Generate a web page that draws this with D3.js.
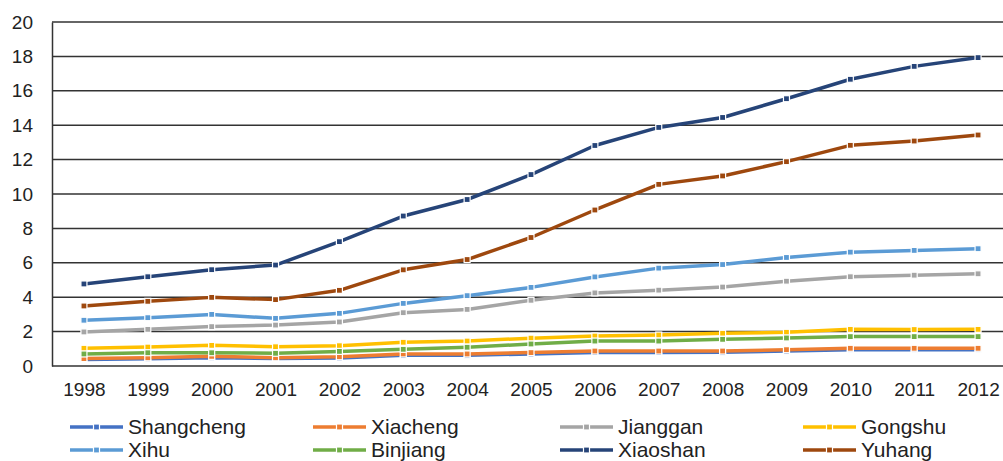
<!DOCTYPE html>
<html>
<head>
<meta charset="utf-8">
<script src="https://cdn.jsdelivr.net/npm/d3@7"></script>
<style>
  html, body { margin: 0; padding: 0; background: #fff; }
  svg { display: block; font-family: Arial, "Liberation Sans", sans-serif; }
</style>
</head>
<body>
<svg id="chart" width="1003" height="461"></svg>
<script>
// District values by year
const years = ["1998","1999","2000","2001","2002","2003","2004","2005","2006","2007","2008","2009","2010","2011","2012"];
const yTicks = [0, 2, 4, 6, 8, 10, 12, 14, 16, 18, 20];

const shangcheng = [0.38,0.42,0.48,0.43,0.47,0.62,0.63,0.70,0.79,0.79,0.80,0.87,0.95,0.95,0.95];
const xiacheng   = [0.43,0.48,0.56,0.48,0.54,0.70,0.70,0.78,0.87,0.87,0.87,0.95,1.03,1.03,1.03];
const jianggan   = [1.98,2.13,2.29,2.38,2.56,3.10,3.29,3.82,4.25,4.41,4.59,4.93,5.19,5.28,5.36];
const gongshu    = [1.03,1.10,1.20,1.12,1.18,1.38,1.45,1.62,1.74,1.80,1.90,1.96,2.13,2.12,2.13];
const xihu       = [2.66,2.81,3.00,2.77,3.06,3.64,4.09,4.57,5.18,5.69,5.90,6.31,6.62,6.72,6.82];
const binjiang   = [0.70,0.77,0.77,0.74,0.85,0.97,1.09,1.28,1.45,1.45,1.55,1.63,1.71,1.71,1.71];
const xiaoshan   = [4.77,5.19,5.60,5.87,7.23,8.72,9.68,11.13,12.82,13.87,14.45,15.54,16.67,17.42,17.93];
const yuhang     = [3.49,3.76,3.99,3.86,4.40,5.59,6.19,7.47,9.07,10.56,11.05,11.88,12.83,13.08,13.43];

const seriesNames  = ["Shangcheng","Xiacheng","Jianggan","Gongshu","Xihu","Binjiang","Xiaoshan","Yuhang"];
const seriesValues = [shangcheng, xiacheng, jianggan, gongshu, xihu, binjiang, xiaoshan, yuhang];
const seriesColors = ["#4472C4","#ED7D31","#A5A5A5","#FFC000","#5B9BD5","#70AD47","#264478","#9E480E"];

const series = seriesNames.map((name, i) => ({
  name, color: seriesColors[i],
  values: seriesValues[i].map((v, j) => ({ year: years[j], value: v }))
}));

const svg = d3.select("#chart");
const plot = { left: 52, right: 1010, top: 22, bottom: 366 };

const x = d3.scalePoint().domain(years).range([plot.left, plot.right]).padding(0.5);
const y = d3.scaleLinear().domain([0, 20]).range([plot.bottom, plot.top]);

// Horizontal gridlines
svg.append("g").selectAll("line").data(yTicks).join("line")
  .attr("x1", plot.left).attr("x2", 1003)
  .attr("y1", d => y(d)).attr("y2", d => y(d))
  .attr("stroke", "#333").attr("stroke-width", 1.5);

// Y axis
const yAxis = svg.append("g").attr("transform", `translate(${plot.left},0)`)
  .call(d3.axisLeft(y).tickValues(yTicks).tickSize(0).tickPadding(19));
yAxis.select(".domain").attr("stroke", "#333").attr("stroke-width", 1.5);
yAxis.selectAll("text").attr("font-size", 19).attr("fill", "#222")
  .attr("font-family", "Arial, 'Liberation Sans', sans-serif");

// X axis labels
const xAxis = svg.append("g").attr("transform", `translate(0,${plot.bottom})`)
  .call(d3.axisBottom(x).tickSize(0).tickPadding(17));
xAxis.select(".domain").remove();
xAxis.selectAll("text").attr("font-size", 19).attr("fill", "#222")
  .attr("font-family", "Arial, 'Liberation Sans', sans-serif");

// Lines and markers
const line = d3.line().x(d => x(d.year)).y(d => y(d.value));
const g = svg.append("g");
series.forEach(s => {
  const sg = g.append("g");
  sg.append("path").datum(s.values)
    .attr("d", line).attr("fill", "none")
    .attr("stroke", s.color).attr("stroke-width", 3.5)
    .attr("stroke-linejoin", "round");
  sg.selectAll("rect").data(s.values).join("rect")
    .attr("x", d => x(d.year) - 3).attr("y", d => y(d.value) - 3)
    .attr("width", 6).attr("height", 6)
    .attr("fill", s.color).attr("stroke", "#fff").attr("stroke-width", 1.2);
});

// Legend
const legendCols = [70, 313, 560, 803];
const legendRows = [427, 450];
const legend = svg.append("g");
series.forEach((s, i) => {
  const lx = legendCols[i % 4];
  const ly = legendRows[Math.floor(i / 4)];
  const item = legend.append("g").attr("transform", `translate(${lx},${ly})`);
  item.append("line").attr("x1", 0).attr("x2", 53).attr("y1", 0).attr("y2", 0)
    .attr("stroke", s.color).attr("stroke-width", 3.5);
  item.append("rect").attr("x", 23.5).attr("y", -3).attr("width", 6).attr("height", 6)
    .attr("fill", s.color).attr("stroke", "#fff").attr("stroke-width", 1.2);
  item.append("text").attr("x", 58).attr("y", 0).attr("dy", "0.35em")
    .attr("font-size", 21).attr("fill", "#222").text(s.name);
});
</script>
</body>
</html>
